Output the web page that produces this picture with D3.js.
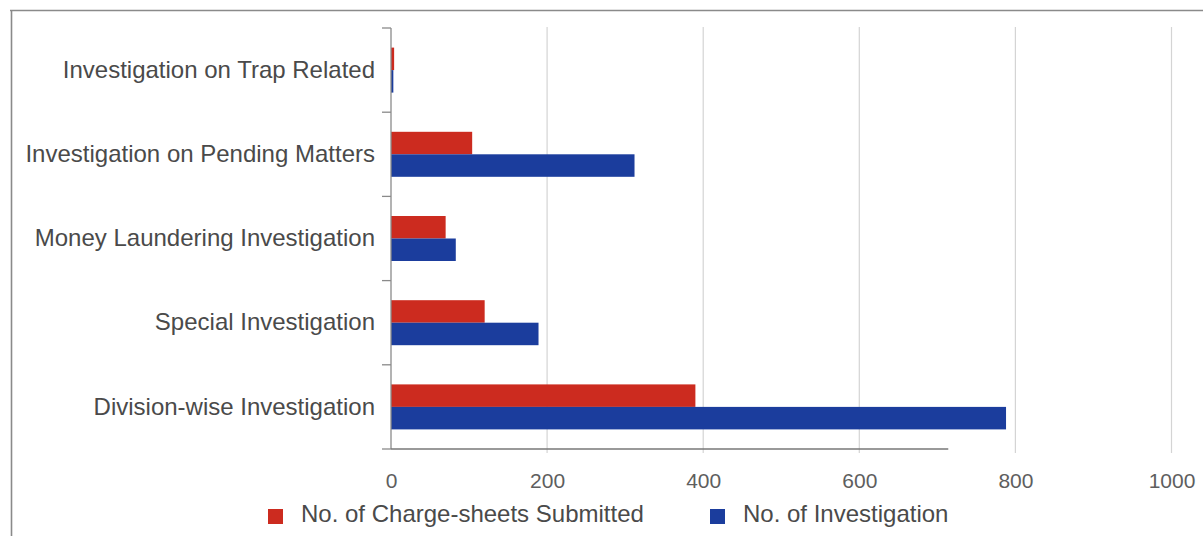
<!DOCTYPE html>
<html><head><meta charset="utf-8">
<script src="https://cdn.jsdelivr.net/npm/d3@7"></script>
<style>
html,body{margin:0;padding:0;background:#fff;}
svg{display:block;font-family:"Liberation Sans",Arial,sans-serif;}
</style></head>
<body><svg id="c" width="1203" height="536"></svg>
<script>
const categories = ["Investigation on Trap Related","Investigation on Pending Matters","Money Laundering Investigation","Special Investigation","Division-wise Investigation"];
const chargeSheets = [4, 104, 70, 120, 390];
const investigations = [3, 312, 83, 189, 788];
const seriesNames = ["No. of Charge-sheets Submitted","No. of Investigation"];
const xTicks = [0,200,400,600,800,1000];
const colors = ["#cc2b1f","#1b3d9d"];

const svg = d3.select("#c");
const x = d3.scaleLinear().domain([0,1000]).range([391,1171.5]);
const y = d3.scaleBand().domain(categories).range([28,449]);
const inner = d3.scaleBand().domain(seriesNames).range([0,45]);
const off = (y.bandwidth()-45)/2;

// frame
svg.append("line").attr("x1",10).attr("x2",1203).attr("y1",10.5).attr("y2",10.5).attr("stroke","#8a8a8a").attr("stroke-width",1.6);
svg.append("line").attr("x1",11.5).attr("x2",11.5).attr("y1",10).attr("y2",536).attr("stroke","#8a8a8a").attr("stroke-width",1.6);

// gridlines
svg.append("g").selectAll("line").data(xTicks.filter(d=>d>0)).join("line")
  .attr("x1",d=>x(d)).attr("x2",d=>x(d)).attr("y1",27).attr("y2",453)
  .attr("stroke","#d4d4d4").attr("stroke-width",1.2);

// bars
const data = categories.map((c,i)=>({c, vals:[chargeSheets[i], investigations[i]]}));
const g = svg.append("g");
data.forEach(d=>{
  d.vals.forEach((v,j)=>{
    g.append("rect")
      .attr("x",x(0)).attr("width",x(v)-x(0))
      .attr("y",y(d.c)+off+inner(seriesNames[j])).attr("height",inner.bandwidth())
      .attr("fill",colors[j]);
  });
});

// y axis
const yAxis = d3.axisLeft(y).tickSize(0).tickPadding(16).tickFormat(d=>d);
const ya = svg.append("g").attr("transform",`translate(${x(0)},0)`).call(yAxis);
ya.select(".domain").remove();
ya.selectAll("text").attr("font-size",24).attr("fill","#4a4a4a").attr("font-family","Liberation Sans, Arial, sans-serif");
svg.append("line").attr("x1",x(0)).attr("x2",x(0)).attr("y1",y.range()[0]).attr("y2",y.range()[1]).attr("stroke","#8a8a8a").attr("stroke-width",1.3);
const bounds = categories.map(c=>y(c)).concat([y.range()[1]]);
svg.append("g").selectAll("line").data(bounds).join("line")
  .attr("x1",x(0)-9).attr("x2",x(0)).attr("y1",d=>d).attr("y2",d=>d)
  .attr("stroke","#8a8a8a").attr("stroke-width",1.3);
// bottom baseline (partial, as in reference)
svg.append("line").attr("x1",x(0)).attr("x2",x(714)).attr("y1",449).attr("y2",449).attr("stroke","#777").attr("stroke-width",1.3);

// x axis labels
const xAxis = d3.axisBottom(x).tickValues(xTicks).tickSize(0).tickPadding(0).tickFormat(d3.format("d"));
const xa = svg.append("g").attr("transform","translate(0,469)").call(xAxis);
xa.select(".domain").remove();
xa.selectAll("text").attr("font-size",21).attr("fill","#5e5e5e").attr("font-family","Liberation Sans, Arial, sans-serif").attr("dy","0.9em");

// legend
const legendX = [268, 710];
seriesNames.forEach((s,i)=>{
  svg.append("rect").attr("x",legendX[i]).attr("y",509).attr("width",15).attr("height",15).attr("fill",colors[i]);
  svg.append("text").attr("x",legendX[i]+33).attr("y",522).attr("font-size",24).attr("fill","#4a4a4a").text(s);
});
</script></body></html>
